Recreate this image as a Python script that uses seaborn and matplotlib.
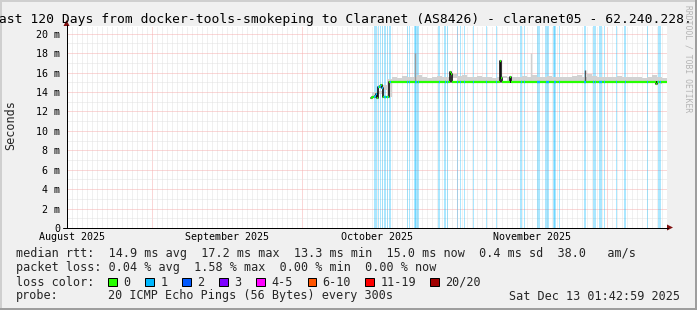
import numpy as np
import pandas as pd
import matplotlib
matplotlib.use("Agg")
import matplotlib.pyplot as plt
import matplotlib.dates as mdates
from matplotlib.ticker import FixedLocator, FixedFormatter, MultipleLocator, NullFormatter
from matplotlib.lines import Line2D
from matplotlib.patches import Polygon, Rectangle
from matplotlib.transforms import IdentityTransform
import seaborn as sns

# ---------------- data ----------------
title = "Last 120 Days from docker-tools-smokeping to Claranet (AS8426) - claranet05 - 62.240.228."
y_label = "Seconds"
watermark = "RRDTOOL / TOBI OETIKER"
start_time = "2025-08-15 01:42:59"
end_time = "2025-12-13 01:42:59"
y_max_ms = 20.8

y_ticks_ms = [0, 2, 4, 6, 8, 10, 12, 14, 16, 18, 20]
y_tick_labels = ["0", "2 m", "4 m", "6 m", "8 m", "10 m", "12 m", "14 m", "16 m", "18 m", "20 m"]

month_label_dates = ["2025-08-16", "2025-09-16", "2025-10-16", "2025-11-16"]
month_labels = ["August 2025", "September 2025", "October 2025", "November 2025"]

# median rtt (ms), step series: value holds until next time
median_times = [
    "2025-10-14 21:00", "2025-10-15 02:00", "2025-10-15 06:45", "2025-10-15 11:30",
    "2025-10-15 16:20", "2025-10-15 21:05", "2025-10-16 01:55", "2025-10-16 06:45",
    "2025-10-16 11:30", "2025-10-16 16:20", "2025-10-16 21:05", "2025-10-17 01:55",
    "2025-10-17 06:45", "2025-10-17 16:20", "2025-10-18 11:30", "2025-10-30 16:20",
    "2025-10-30 21:05", "2025-10-31 01:55", "2025-11-09 16:20", "2025-11-09 21:05",
    "2025-11-10 01:55", "2025-11-11 16:20", "2025-11-11 21:05", "2025-12-10 21:05",
    "2025-12-11 01:55", "2025-12-13 00:30",
]
median_ms = [
    13.40, 13.45, 13.45, 13.50,
    13.55, 13.80, 13.35, 14.50,
    14.55, 14.60, 14.75, 14.45,
    13.45, 13.50, 15.05, 16.10,
    15.90, 15.05, 17.20, 15.40,
    15.05, 15.50, 15.05, 14.85,
    15.05, 15.05,
]

# packet-loss events (lost pings out of 20)
loss_times = [
    "2025-10-15 13:00", "2025-10-15 17:45", "2025-10-15 22:30", "2025-10-16 08:00",
    "2025-10-16 19:40", "2025-10-17 05:15", "2025-10-17 14:00", "2025-10-17 18:45",
    "2025-10-18 03:20", "2025-10-18 16:20", "2025-10-22 02:00", "2025-10-22 13:00",
    "2025-10-23 16:20", "2025-10-23 21:00", "2025-10-24 06:40", "2025-10-28 11:30",
    "2025-10-29 16:20", "2025-10-30 03:20", "2025-11-01 03:20", "2025-11-01 19:40",
    "2025-11-02 13:00", "2025-11-04 08:10", "2025-11-07 00:30", "2025-11-09 00:30",
    "2025-11-13 21:00", "2025-11-14 13:00", "2025-11-17 05:15", "2025-11-17 10:05",
    "2025-11-17 14:50", "2025-11-18 21:00", "2025-11-19 02:00", "2025-11-19 08:10",
    "2025-11-20 11:30", "2025-11-20 16:20", "2025-11-21 13:00", "2025-11-26 14:00",
    "2025-11-26 18:45", "2025-11-28 08:10", "2025-11-28 16:20", "2025-11-29 14:00",
    "2025-11-29 18:45", "2025-11-29 23:30", "2025-11-30 13:00", "2025-12-03 00:30",
    "2025-12-04 16:20", "2025-12-09 05:15", "2025-12-11 08:10", "2025-12-11 16:20",
]
loss_counts = [1] * 48

# smoke (spread of the 20 pings): daily upper edge in ms, from Oct 15
smoke_start = "2025-10-15"
smoke_hi_ms = [
    14.0, 14.1, 14.2, 15.3,
    15.6, 15.4, 15.7, 15.5, 15.6, 15.8, 15.5, 15.4, 15.6, 15.7, 15.5, 15.6, 15.4,
    15.7, 15.8, 15.6, 15.5, 15.7, 15.5, 15.6, 15.4, 15.6, 15.7,
    15.5, 15.6, 15.5, 15.7, 15.6, 15.8, 15.6, 15.5, 15.7, 15.6,
    15.5, 15.6, 15.5, 15.7, 15.8, 15.6, 15.9, 15.7, 15.6, 15.5,
    15.6, 15.5, 15.7, 15.6, 15.5, 15.6, 15.5, 15.4, 15.6, 15.8, 15.5, 15.4, 15.4,
]

# single slow pings drawn as thin smoke spikes
spike_times = ["2025-10-23 16:20", "2025-11-15 21:00", "2025-11-26 14:00"]
spike_top_ms = [18.0, 18.0, 16.3]

# legend contents
median_stats = ["14.9 ms avg", "17.2 ms max", "13.3 ms min", "15.0 ms now", "0.4 ms sd", "38.0   am/s"]
loss_stats = ["0.04 % avg", "1.58 % max", "0.00 % min", "0.00 % now"]
loss_color_labels = ["0", "1", "2", "3", "4-5", "6-10", "11-19", "20/20"]
loss_color_values = ["#26ff00", "#00b8ff", "#0059ff", "#7e00ff", "#ff00ff", "#ff5500", "#ff0000", "#a10000"]
probe_text = "20 ICMP Echo Pings (56 Bytes) every 300s"
timestamp_text = "Sat Dec 13 01:42:59 2025"

# ---------------- style ----------------
sns.set_style("white")
plt.rcParams["font.family"] = ["DejaVu Sans Mono", "DejaVu Sans"]

W, H = 697, 310
PX = IdentityTransform()
def fy(y):
    return H - y

fig = plt.figure(figsize=(W / 100, H / 100), dpi=100, facecolor="#f0f0f0")
X0, X1, Y0, Y1 = 67, 667, 228, 26
ax = fig.add_axes([X0 / W, (H - Y0) / H, (X1 - X0) / W, (Y0 - Y1) / H])
ax.set_facecolor("white")
for s in ax.spines.values():
    s.set_visible(False)

tnum = lambda v: mdates.date2num(pd.to_datetime(v))
ax.set_xlim(tnum(start_time), tnum(end_time))
ax.set_ylim(0, y_max_ms)

# grid
ax.set_axisbelow(True)
ax.xaxis.set_major_locator(mdates.MonthLocator())
ax.xaxis.set_major_formatter(NullFormatter())
ax.xaxis.set_minor_locator(mdates.DayLocator())
ax.yaxis.set_major_locator(FixedLocator(y_ticks_ms))
ax.yaxis.set_major_formatter(FixedFormatter(y_tick_labels))
ax.yaxis.set_minor_locator(MultipleLocator(1))
ax.grid(which="major", color="#f6b0b0", ls=(0, (1, 1)), lw=0.72)
ax.grid(which="minor", color="#e2e2e2", ls=(0, (1, 1)), lw=0.72)
ax.tick_params(axis="both", which="minor", length=0)
ax.tick_params(axis="x", which="major", length=2.2, width=0.72, color="black", direction="out")
ax.tick_params(axis="y", which="major", length=2.2, width=0.72, color="black",
               direction="out", pad=2.9, labelsize=7.2, labelcolor="black")

# loss bars
loss_x = tnum(loss_times)
loss_col = [loss_color_values[min(c, 1)] for c in loss_counts]
ax.bar(loss_x, [y_max_ms] * len(loss_x), width=0.22, bottom=0, color=loss_col,
       alpha=0.33, lw=0, align="center", zorder=1)

# median lookup helper
med_x = tnum(median_times)
med_v = np.array(median_ms)
def med_at(x):
    i = np.clip(np.searchsorted(med_x, x, side="right") - 1, 0, len(med_v) - 1)
    return med_v[i]

# smoke
smoke_x = mdates.date2num(pd.date_range(smoke_start, periods=len(smoke_hi_ms), freq="D"))
smoke_x = np.append(smoke_x, tnum(median_times[-1]))
smoke_hi = np.append(smoke_hi_ms, smoke_hi_ms[-1])
smoke_lo = med_at(smoke_x)
ax.fill_between(smoke_x, smoke_lo, smoke_hi, step="post", color="#d2d2d2", lw=0, zorder=2)

# spikes
spike_x = tnum(spike_times)
ax.vlines(spike_x, [med_at(x) for x in spike_x], spike_top_ms,
          colors=["#9a9a9a", "#d0d0d0", "#555555"], lw=1.0, zorder=2.5)

# median: black steps, green level segments, loss-coloured where pings lost
sns.lineplot(x=med_x, y=med_v, ax=ax, drawstyle="steps-post", color="#111111",
             lw=1.2, estimator=None, sort=False, zorder=3)
ax.hlines(med_v[:-1], med_x[:-1], med_x[1:], colors=loss_color_values[0], lw=1.6, zorder=4)
ax.hlines([med_at(x) for x in loss_x], loss_x - 0.1, loss_x + 0.1, colors=loss_col, lw=1.6, zorder=5)
ax.set_xlabel("")
ax.set_ylabel("")

# month labels
for d, lab in zip(month_label_dates, month_labels):
    ax.text(tnum(d), -9.5 / (Y0 - Y1), lab, transform=ax.get_xaxis_transform(),
            ha="center", va="center", fontsize=7.2, color="black")

# axes lines and arrows (rrdtool style)
fig.add_artist(Line2D([63, 668], [fy(228) + 0.5] * 2, transform=PX, color="black", lw=0.72))
fig.add_artist(Line2D([X0 - 0.5] * 2, [fy(228), fy(25)], transform=PX, color="black", lw=0.72))
fig.add_artist(Polygon([[X0 - 3.5, fy(26)], [X0 + 2.5, fy(26)], [X0 - 0.5, fy(20)]],
                       transform=PX, color="#7f1010", lw=0))
fig.add_artist(Polygon([[667, fy(225) + 0.5], [667, fy(231) + 0.5], [673, fy(228) + 0.5]],
                       transform=PX, color="#7f1010", lw=0))

# frame
fig.add_artist(Rectangle((0, H - 2), W, 2, transform=PX, color="#cfcfcf", lw=0))
fig.add_artist(Rectangle((0, 0), 2, H, transform=PX, color="#cfcfcf", lw=0))
fig.add_artist(Rectangle((0, 0), W, 2, transform=PX, color="#9e9e9e", lw=0))
fig.add_artist(Rectangle((W - 2, 0), 2, H, transform=PX, color="#9e9e9e", lw=0))

# texts
fig.text(-8.9, fy(19), title, transform=PX, ha="left", va="center", fontsize=9.4, color="black")
fig.text(11, fy(125), y_label, transform=PX, rotation=90, ha="center", va="center", fontsize=8.5)
fig.text(688, fy(59), watermark, transform=PX, rotation=270, ha="center", va="center",
         fontsize=5.8, color="#b4b4b4")

LX = 16
fig.text(LX, fy(254), "median rtt:  " + "  ".join(median_stats), transform=PX,
         ha="left", va="center", fontsize=8.5)
fig.text(LX, fy(268), "packet loss: " + "  ".join(loss_stats), transform=PX,
         ha="left", va="center", fontsize=8.5)
fig.text(LX, fy(282), "loss color:", transform=PX, ha="left", va="center", fontsize=8.5)
box_x = [108, 145.3, 182.2, 219, 256.4, 307.6, 365.3, 430]
for bx, lab, col in zip(box_x, loss_color_labels, loss_color_values):
    fig.add_artist(Rectangle((bx, fy(286)), 8.5, 8.5, transform=PX, facecolor=col,
                             edgecolor="black", lw=0.72))
    fig.text(bx + 15, fy(282), lab, transform=PX, ha="left", va="center", fontsize=8.5)
fig.text(LX, fy(296), "probe:", transform=PX, ha="left", va="center", fontsize=8.5)
fig.text(108, fy(296), probe_text, transform=PX, ha="left", va="center", fontsize=8.5)
fig.text(680, fy(296), timestamp_text, transform=PX, ha="right", va="center", fontsize=8.5)

fig.savefig("out.png", dpi=100, facecolor=fig.get_facecolor())
